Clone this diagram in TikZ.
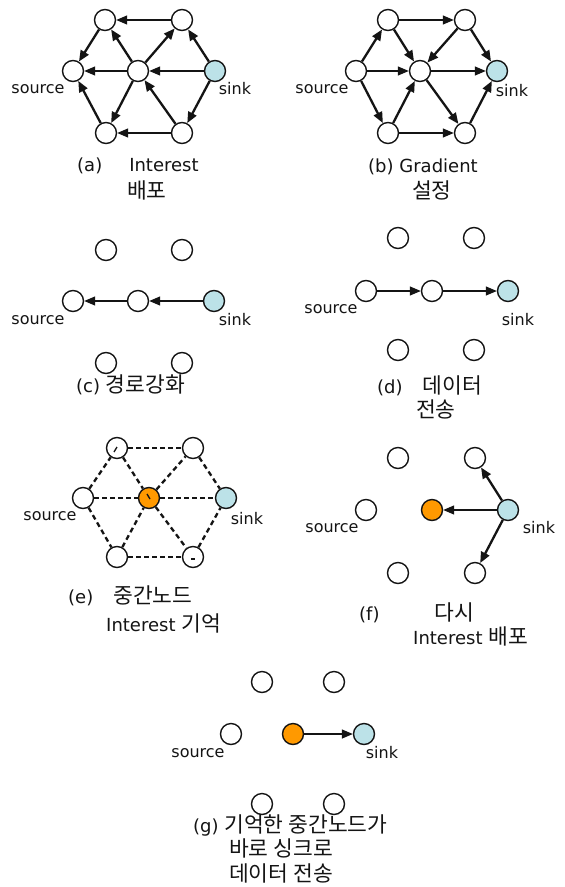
\documentclass[tikz,border=0pt]{standalone}
\usepackage{fontspec}
\setmainfont{DejaVu Sans}
\newfontfamily\kr{Noto Sans CJK KR}
\usetikzlibrary{arrows.meta}
\definecolor{sinkblue}{RGB}{188,226,232}
\definecolor{memorange}{RGB}{255,153,0}
\definecolor{ink}{RGB}{20,20,20}
\newcommand\hg[1]{{\kr\fontsize{21.5}{23}\selectfont #1}}

\begin{document}
\begin{tikzpicture}[x=1pt,y=-1pt,
  nd/.style={circle, draw=ink, line width=1.4pt, fill=white, minimum size=21pt, inner sep=0pt},
  sinknd/.style={nd, fill=sinkblue},
  memnd/.style={nd, fill=memorange},
  arrtip/.style={-{Triangle[length=11pt,width=9pt]}},
  ah/.style={arrtip, draw=ink, line width=1.3pt},
  ad/.style={arrtip, draw=ink, line width=2.3pt},
  dh/.style={draw=ink, line width=1.3pt, dash pattern=on 5pt off 3pt},
  dd/.style={draw=ink, line width=2.3pt, dash pattern=on 5pt off 3.5pt},
  inmark/.style={draw=ink, line width=1.3pt},
  lbl/.style={text=ink, font=\fontsize{16}{18}\selectfont, inner sep=0pt},
  captxt/.style={text=ink, font=\fontsize{18}{22}\selectfont, inner sep=0pt, anchor=west}
]
\useasboundingbox[fill=white] (0,0) rectangle (565,887);

% ---------- (a) Interest spreading ----------
\node[nd] (aTL) at (105,20) {};
\node[nd] (aTR) at (182,20) {};
\node[nd] (aS)  at (73,71) {};
\node[nd] (aC)  at (138,71) {};
\node[sinknd] (aK) at (215,71) {};
\node[nd] (aBL) at (106,133) {};
\node[nd] (aBR) at (182,133) {};
\node[lbl] (aSl) at (38,89) {source};
\node[lbl] (aKl) at (235,89) {sink};
\draw[ah] (aTR) -- (aTL);
\draw[ah] (aC) -- (aS);
\draw[ah] (aK) -- (aC);
\draw[ah] (aBR) -- (aBL);
\draw[ad] (aTL) -- (aS);
\draw[ad] (aC) -- (aTL);
\draw[ad] (aC) -- (aTR);
\draw[ad] (aK) -- (aTR);
\draw[ad] (aC) -- (aBL);
\draw[ad] (aBR) -- (aC);
\draw[ad] (aBL) -- (aS);
\draw[ad] (aK) -- (aBR);
\node[captxt] (ac1) at (77,166) {(a)\hspace{27pt}Interest};
\node[captxt] (ac2) at (127,190) {\hg{배포}};

% ---------- (b) gradient setup ----------
\node[nd] (bTL) at (388,20) {};
\node[nd] (bTR) at (465,20) {};
\node[nd] (bS)  at (356,71) {};
\node[nd] (bC)  at (420,71) {};
\node[sinknd] (bK) at (497,71) {};
\node[nd] (bBL) at (388,133) {};
\node[nd] (bBR) at (465,133) {};
\node[lbl] (bSl) at (322,89) {source};
\node[lbl] (bKl) at (512,91) {sink};
\draw[ah] (bTL) -- (bTR);
\draw[ah] (bS) -- (bC);
\draw[ah] (bC) -- (bK);
\draw[ah] (bBL) -- (bBR);
\draw[ad] (bS) -- (bTL);
\draw[ad] (bTL) -- (bC);
\draw[ad] (bTR) -- (bC);
\draw[ad] (bTR) -- (bK);
\draw[ad] (bS) -- (bBL);
\draw[ad] (bBL) -- (bC);
\draw[ad] (bC) -- (bBR);
\draw[ad] (bBR) -- (bK);
\node[captxt] (bc1) at (368,167) {(b) Gradient};
\node[captxt] (bc2) at (412,190) {\hg{설정}};

% ---------- (c) path reinforcement ----------
\node[nd] (cTL) at (106,250) {};
\node[nd] (cTR) at (182,250) {};
\node[nd] (cS)  at (73,301) {};
\node[nd] (cC)  at (138,301) {};
\node[sinknd] (cK) at (214,301) {};
\node[nd] (cBL) at (106,363) {};
\node[nd] (cBR) at (182,363) {};
\node[lbl] (cSl) at (38,320) {source};
\node[lbl] (cKl) at (235,320) {sink};
\draw[ah] (cK) -- (cC);
\draw[ah] (cC) -- (cS);
\node[captxt] (cc1) at (76,385) {(c) \hg{경로강화}};

% ---------- (d) data delivery ----------
\node[nd] (dTL) at (398,238) {};
\node[nd] (dTR) at (474,238) {};
\node[nd] (dS)  at (366,291) {};
\node[nd] (dC)  at (432,291) {};
\node[sinknd] (dK) at (508,291) {};
\node[nd] (dBL) at (398,350) {};
\node[nd] (dBR) at (474,350) {};
\node[lbl] (dSl) at (331,309) {source};
\node[lbl] (dKl) at (518,320) {sink};
\draw[ah] (dS) -- (dC);
\draw[ah] (dC) -- (dK);
\node[captxt] (dc1) at (377,386) {(d)\hspace{20pt}\hg{데이터}};
\node[captxt] (dc2) at (416,409) {\hg{전송}};

% ---------- (e) intermediate node keeps the interest ----------
\node[nd] (eTL) at (117,448) {};
\node[nd] (eTR) at (193,448) {};
\node[nd] (eS)  at (83,498) {};
\node[memnd] (eC) at (149,498) {};
\node[sinknd] (eK) at (226,498) {};
\node[nd] (eBL) at (117,557) {};
\node[nd] (eBR) at (193,557) {};
\node[lbl] (eSl) at (50,516) {source};
\node[lbl] (eKl) at (247,519) {sink};
\draw[dh] (eTL) -- (eTR);
\draw[dh] (eS) -- (eC);
\draw[dh] (eC) -- (eK);
\draw[dh] (eBL) -- (eBR);
\draw[dd] (eS) -- (eTL);
\draw[dd] (eTL) -- (eC);
\draw[dd] (eC) -- (eTR);
\draw[dd] (eTR) -- (eK);
\draw[dd] (eS) -- (eBL);
\draw[dd] (eBL) -- (eC);
\draw[dd] (eC) -- (eBR);
\draw[dd] (eBR) -- (eK);
\draw[inmark] ([shift={(-3,4)}]eTL.center) -- ([shift={(0,-1)}]eTL.center);
\draw[inmark] ([shift={(-2,-4)}]eC.center) -- ([shift={(1,1)}]eC.center);
\draw[inmark] ([shift={(-2,2)}]eBR.center) -- ([shift={(2,2)}]eBR.center);
\node[captxt] (ec1) at (68,596) {(e)\hspace{20pt}\hg{중간노드}};
\node[captxt] (ec2) at (106,623) {Interest \hg{기억}};

% ---------- (f) interest spread again ----------
\node[nd] (fTL) at (398,458) {};
\node[nd] (fTR) at (475,458) {};
\node[nd] (fS)  at (366,510) {};
\node[memnd] (fC) at (432,510) {};
\node[sinknd] (fK) at (508,510) {};
\node[nd] (fBL) at (398,573) {};
\node[nd] (fBR) at (475,573) {};
\node[lbl] (fSl) at (332,528) {source};
\node[lbl] (fKl) at (539,528) {sink};
\draw[ah] (fK) -- (fC);
\draw[ad] (fK) -- (fTR);
\draw[ad] (fK) -- (fBR);
\node[captxt] (fc1) at (359,613) {(f)\hspace{55pt}\hg{다시}};
\node[captxt] (fc2) at (413,636) {Interest \hg{배포}};

% ---------- (g) stored node sends data straight to the sink ----------
\node[nd] (gTL) at (262,682) {};
\node[nd] (gTR) at (334,682) {};
\node[nd] (gS)  at (231,734) {};
\node[memnd] (gC) at (293,734) {};
\node[sinknd] (gK) at (364,734) {};
\node[nd] (gBL) at (262,804) {};
\node[nd] (gBR) at (334,804) {};
\node[lbl] (gSl) at (198,753) {source};
\node[lbl] (gKl) at (382,753) {sink};
\draw[ah] (gC) -- (gK);
\node[captxt] (gc1) at (193,825) {(g) \hg{기억한 중간노드가}};
\node[captxt] (gc2) at (229,848) {\hg{바로 싱크로}};
\node[captxt] (gc3) at (229,873) {\hg{데이터 전송}};
\end{tikzpicture}
\end{document}
